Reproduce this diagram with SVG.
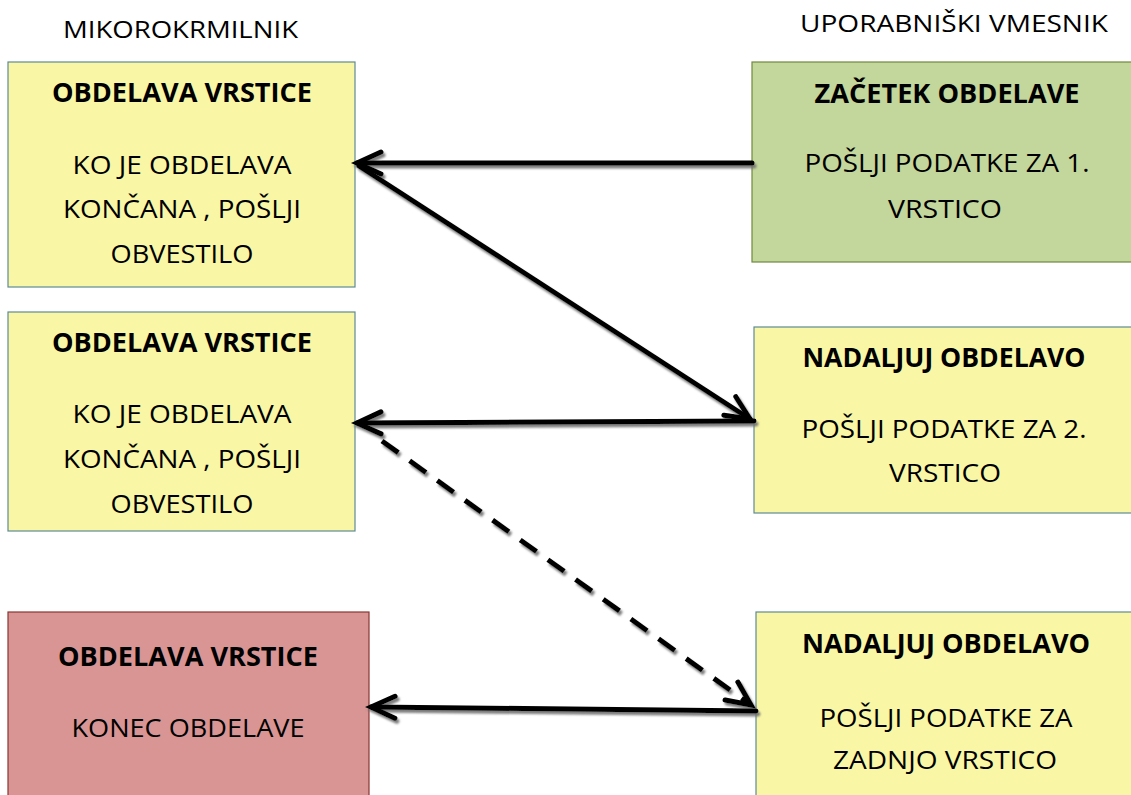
<svg xmlns="http://www.w3.org/2000/svg" width="1131" height="795" viewBox="0 0 1131 795">
<style>
  .hdr { font-family: "Open Sans", "Liberation Sans", sans-serif; font-size: 24px; fill: #000; text-anchor: middle; }
  .ttl { font-family: "Open Sans", "Liberation Sans", sans-serif; font-size: 26px; font-weight: bold; fill: #000; text-anchor: middle; }
  .txt { font-family: "Open Sans", "Liberation Sans", sans-serif; font-size: 26px; fill: #000; text-anchor: middle; }
  .yel { fill: #F9F7A6; stroke: #5E8A94; stroke-width: 1.2; }
  .grn { fill: #C3D69B; stroke: #71893F; stroke-width: 1.2; }
  .red { fill: #D99594; stroke: #8A3533; stroke-width: 1.2; }
  .con { fill: none; stroke: #000; stroke-width: 5; stroke-linecap: round; marker-end: url(#arr); }
  .dash { stroke-dasharray: 20 14; stroke-linecap: butt; }
</style>
<defs>
  <marker id="arr" markerUnits="userSpaceOnUse" markerWidth="40" markerHeight="40" viewBox="-30 -20 40 40" refX="0" refY="0" orient="auto" overflow="visible">
    <path d="M -24,-11 L 0,0 L -24,11" fill="none" stroke="#000" stroke-width="5" stroke-linecap="round" stroke-linejoin="miter"/>
  </marker>
  <filter id="shadow" x="-10%" y="-10%" width="120%" height="130%">
    <feDropShadow dx="2" dy="3" stdDeviation="1.2" flood-color="#707070" flood-opacity="0.9"/>
  </filter>
</defs>
<rect width="1131" height="795" fill="#fff"/>

<g id="headers">
  <text class="hdr" x="180.5" y="38" textLength="235" lengthAdjust="spacingAndGlyphs">MIKOROKRMILNIK</text>
  <text class="hdr" x="954" y="32" textLength="308" lengthAdjust="spacingAndGlyphs">UPORABNIŠKI VMESNIK</text>
</g>

<g id="left1">
  <rect class="yel" x="8" y="62" width="347" height="225"/>
  <text class="ttl" x="182" y="102" textLength="260" lengthAdjust="spacingAndGlyphs">OBDELAVA VRSTICE</text>
  <text class="txt" x="182" y="174" textLength="219" lengthAdjust="spacingAndGlyphs">KO JE OBDELAVA</text>
  <text class="txt" x="182" y="218" textLength="238" lengthAdjust="spacingAndGlyphs">KONČANA , POŠLJI</text>
  <text class="txt" x="182" y="263" textLength="143" lengthAdjust="spacingAndGlyphs">OBVESTILO</text>
</g>

<g id="left2">
  <rect class="yel" x="8" y="312" width="347" height="219"/>
  <text class="ttl" x="182" y="352" textLength="260" lengthAdjust="spacingAndGlyphs">OBDELAVA VRSTICE</text>
  <text class="txt" x="182" y="423" textLength="219" lengthAdjust="spacingAndGlyphs">KO JE OBDELAVA</text>
  <text class="txt" x="182" y="468" textLength="238" lengthAdjust="spacingAndGlyphs">KONČANA , POŠLJI</text>
  <text class="txt" x="182" y="513" textLength="143" lengthAdjust="spacingAndGlyphs">OBVESTILO</text>
</g>

<g id="left3">
  <rect class="red" x="8" y="612" width="361" height="195"/>
  <text class="ttl" x="188" y="666" textLength="260" lengthAdjust="spacingAndGlyphs">OBDELAVA VRSTICE</text>
  <text class="txt" x="188" y="737" textLength="233" lengthAdjust="spacingAndGlyphs">KONEC OBDELAVE</text>
</g>

<g id="right1">
  <rect class="grn" x="752" y="62" width="392" height="200"/>
  <text class="ttl" x="947" y="103" textLength="265" lengthAdjust="spacingAndGlyphs">ZAČETEK OBDELAVE</text>
  <text class="txt" x="947" y="172" textLength="285" lengthAdjust="spacingAndGlyphs">POŠLJI PODATKE ZA 1.</text>
  <text class="txt" x="945" y="218" textLength="114" lengthAdjust="spacingAndGlyphs">VRSTICO</text>
</g>

<g id="right2">
  <rect class="yel" x="754" y="327" width="392" height="186"/>
  <text class="ttl" x="944" y="367" textLength="283" lengthAdjust="spacingAndGlyphs">NADALJUJ OBDELAVO</text>
  <text class="txt" x="944" y="438" textLength="285" lengthAdjust="spacingAndGlyphs">POŠLJI PODATKE ZA 2.</text>
  <text class="txt" x="945" y="482" textLength="112" lengthAdjust="spacingAndGlyphs">VRSTICO</text>
</g>

<g id="right3">
  <rect class="yel" x="756" y="612" width="392" height="195"/>
  <text class="ttl" x="946" y="653" textLength="288" lengthAdjust="spacingAndGlyphs">NADALJUJ OBDELAVO</text>
  <text class="txt" x="946" y="727" textLength="253" lengthAdjust="spacingAndGlyphs">POŠLJI PODATKE ZA</text>
  <text class="txt" x="945" y="769" textLength="224" lengthAdjust="spacingAndGlyphs">ZADNJO VRSTICO</text>
</g>

<g id="connectors" filter="url(#shadow)">
  <line class="con" x1="752" y1="163" x2="357" y2="163"/>
  <line class="con" x1="359" y1="166" x2="750" y2="419"/>
  <line class="con" x1="754" y1="421" x2="357" y2="423"/>
  <line class="con dash" x1="382" y1="441" x2="751" y2="705"/>
  <line class="con" x1="756" y1="711" x2="371" y2="707"/>
</g>
</svg>
